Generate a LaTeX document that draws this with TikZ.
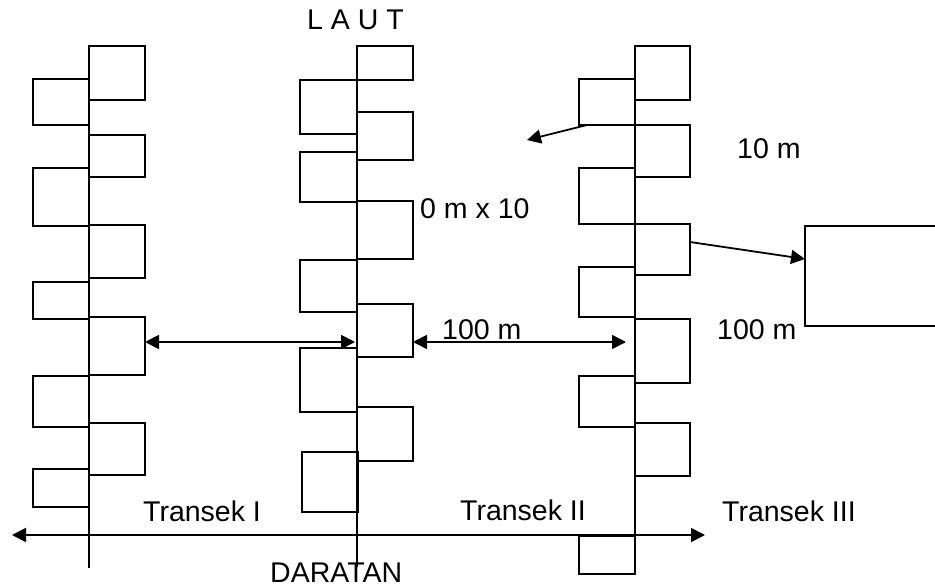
\documentclass[tikz,border=0pt]{standalone}
\usepackage{fontspec}
\setmainfont{Liberation Sans}
\usetikzlibrary{arrows.meta}
\newcommand\mkbox[5]{\node[qbox, minimum width={(#4)-(#2)}, minimum height={(#5)-(#3)}, anchor=north west] (#1) at (#2,#3) {};}
\begin{document}
\begin{tikzpicture}[x=1pt,y=-1pt,
  qbox/.style={draw, line width=1.8pt, inner sep=0pt, outer sep=0pt, rectangle},
  tline/.style={line width=1.8pt},
  lbl/.style={inner sep=0pt, anchor=base west, font=\fontsize{28.5}{34}\selectfont},
  arr/.style={line width=1.8pt, -{Triangle[length=14pt,width=14pt]}},
  darr/.style={line width=1.8pt, {Triangle[length=14pt,width=14pt]}-{Triangle[length=14pt,width=14pt]}}]
\useasboundingbox (0,0) rectangle (935,585);
\clip (0,0) rectangle (935,585);
\fill[white] (0,0) rectangle (935,585);

% transect lines
\coordinate (Itop) at (89,46);   \coordinate (Ibot) at (89,568);
\coordinate (IItop) at (357,46); \coordinate (IIbot) at (357,567);
\coordinate (IIItop) at (635,46);\coordinate (IIIbot) at (635,536);
\draw[tline] (Itop) -- (Ibot);
\draw[tline] (IItop) -- (IIbot);
\draw[tline] (IIItop) -- (IIIbot);

% Transect I boxes
\mkbox{IR1}{89}{46}{145}{100}
\mkbox{IR2}{89}{135}{145}{177}
\mkbox{IR3}{89}{225}{145}{278}
\mkbox{IR4}{89}{317}{145}{375}
\mkbox{IR5}{89}{423}{145}{475}
\mkbox{IL1}{33}{79}{89}{125}
\mkbox{IL2}{33}{168}{89}{226}
\mkbox{IL3}{33}{282}{89}{319}
\mkbox{IL4}{33}{376}{89}{427}
\mkbox{IL5}{33}{469}{89}{507}

% Transect II boxes
\mkbox{IIR1}{357}{46}{413}{80}
\mkbox{IIR2}{357}{112}{413}{160}
\mkbox{IIR3}{357}{201}{413}{259}
\mkbox{IIR4}{357}{304}{413}{357}
\mkbox{IIR5}{357}{407}{413}{461}
\mkbox{IIL1}{300}{80}{357}{134}
\mkbox{IIL2}{300}{152}{357}{202}
\mkbox{IIL3}{300}{260}{357}{312}
\mkbox{IIL4}{300}{348}{357}{412}
\mkbox{IIL5}{302}{452}{358}{512}

% Transect III boxes
\mkbox{IIIR1}{635}{46}{690}{100}
\mkbox{IIIR2}{635}{125}{690}{177}
\mkbox{IIIR3}{635}{224}{690}{275}
\mkbox{IIIR4}{635}{319}{690}{383}
\mkbox{IIIR5}{635}{423}{690}{476}
\mkbox{IIIL1}{579}{79}{635}{125}
\mkbox{IIIL2}{579}{168}{635}{224}
\mkbox{IIIL3}{579}{267}{635}{317}
\mkbox{IIIL4}{579}{376}{635}{427}
\mkbox{IIIL5}{579}{536}{635}{574}

% enlarged plot
\mkbox{big}{805}{226}{970}{326}

% arrows
\coordinate (y342) at (0,342);
\coordinate (IIlineL) at (355,342);
\coordinate (IIIlineL) at (626,342);
\draw[darr] (IR4.east |- y342) -- (IIlineL);
\draw[darr] (IIR4.east |- y342) -- (IIIlineL);
\coordinate (bl) at (12,535); \coordinate (br) at (705,535);
\draw[darr] (bl) -- (br);
\coordinate (s1) at (587,125); \coordinate (e1) at (527,140);
\draw[arr] (s1) -- (e1);
\coordinate (s2) at (690,242); \coordinate (e2) at (805,259);
\draw[arr] (s2) -- (e2);

% labels
\node[lbl] (laut) at (307,30) {L A U T};
\node[lbl] (dim) at (420,219) {0 m x 10};
\node[lbl] (tenm) at (737,159) {10 m};
\node[lbl] (hm1) at (442,340) {100 m};
\node[lbl] (hm2) at (717,340) {100 m};
\node[lbl] (t1) at (143,521) {Transek I};
\node[lbl] (t2) at (460,520) {Transek II};
\node[lbl] (t3) at (722,521) {Transek III};
\node[lbl] (dar) at (270,582) {DARATAN};
\end{tikzpicture}
\end{document}
